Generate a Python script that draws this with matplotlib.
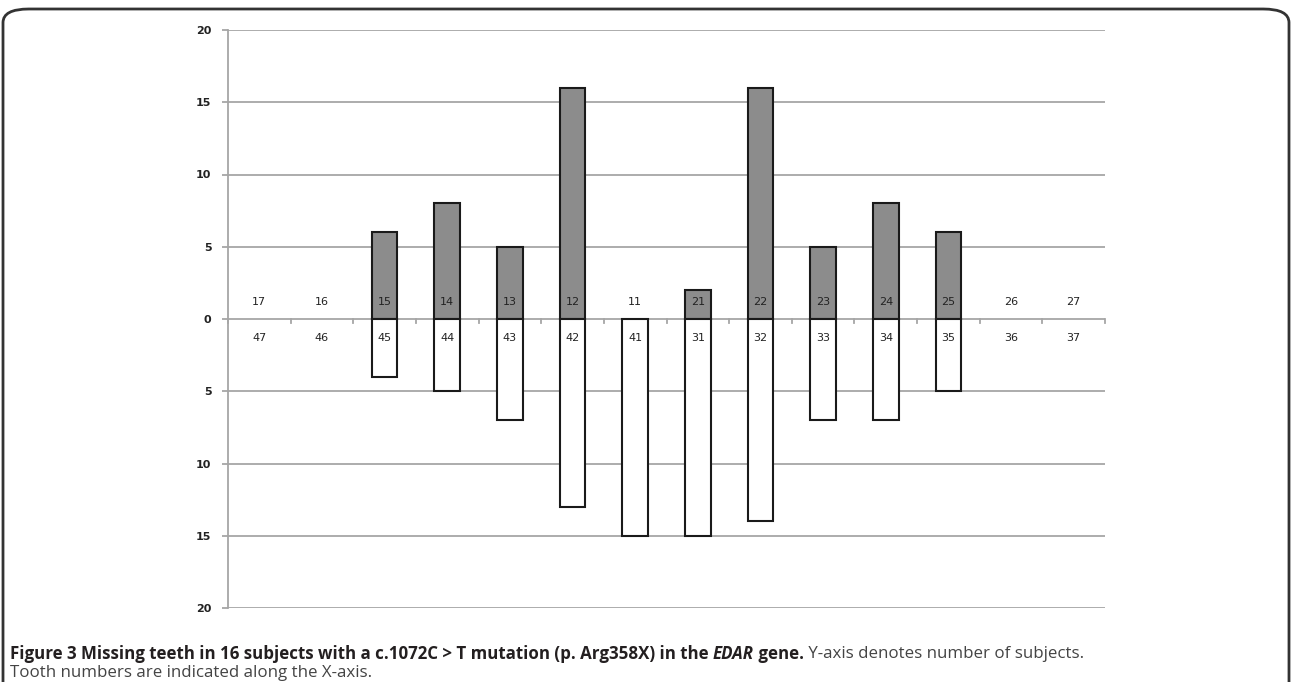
import numpy as np
import matplotlib.pyplot as plt
from matplotlib.patches import FancyBboxPatch

# tooth numbers, upper jaw (top) and lower jaw (bottom)
upper_teeth = ['17', '16', '15', '14', '13', '12', '11', '21', '22', '23', '24', '25', '26', '27']
lower_teeth = ['47', '46', '45', '44', '43', '42', '41', '31', '32', '33', '34', '35', '36', '37']
# number of subjects missing each tooth
upper_missing = [0, 0, 6, 8, 5, 16, 0, 2, 16, 5, 8, 6, 0, 0]
lower_missing = [0, 0, 4, 5, 7, 13, 15, 15, 14, 7, 7, 5, 0, 0]
y_ticks = [-20, -15, -10, -5, 0, 5, 10, 15, 20]

fig = plt.figure(figsize=(12.92, 6.82), dpi=100)
ax = fig.add_axes([228/1292, 1-608/682, 877/1292, 578/682])

x = np.arange(len(upper_teeth))
up = np.array(upper_missing)
lo = np.array(lower_missing)
grid_c = '#a6a6a6'
for yv in y_ticks:
    if yv != 0:
        ax.axhline(yv, color=grid_c, lw=1.3, zorder=0)

# no bar drawn where nobody misses the tooth
ax.bar(x[up > 0], up[up > 0], width=0.41, color='#8c8c8c', edgecolor='#1a1a1a', lw=1.5, zorder=2)
ax.bar(x[lo > 0], -lo[lo > 0], width=0.41, color='white', edgecolor='#1a1a1a', lw=1.5, zorder=2)

# zero axis with ticks between categories
ax.axhline(0, color=grid_c, lw=1.3, zorder=1)
for b in np.arange(len(x) + 1) - 0.5:
    ax.plot([b, b], [0, -0.3], color=grid_c, lw=1.3, zorder=1, clip_on=False)

for i in range(len(x)):
    ax.text(x[i], 1.2, upper_teeth[i], ha='center', va='center', fontsize=8, color='#222222', zorder=4)
    ax.text(x[i], -1.3, lower_teeth[i], ha='center', va='center', fontsize=8, color='#222222', zorder=4)

ax.set_xlim(-0.5, len(x) - 0.5)
ax.set_ylim(-20, 20)
ax.set_xticks([])
ax.set_yticks(y_ticks)
ax.set_yticklabels([str(abs(v)) for v in y_ticks], fontsize=8, fontweight='bold', color='#222222')
ax.tick_params(axis='y', length=4, color=grid_c, width=1.3, pad=8)
for s in ['top', 'right', 'bottom']:
    ax.spines[s].set_visible(False)
ax.spines['left'].set_color(grid_c)
ax.spines['left'].set_linewidth(1.3)

# frame round the figure
frame = FancyBboxPatch((3/1292, -0.1), 1286/1292, 1.1 - 9/682,
                       boxstyle='round,pad=0,rounding_size=0.02', transform=fig.transFigure,
                       fill=False, ec='#333333', lw=2, clip_on=False)
fig.patches.append(frame)

# caption
fam = 'Open Sans'
parts = [('Figure 3 Missing teeth in 16 subjects with a c.1072C > T mutation (p. Arg358X) in the ', 'bold', 'normal', '#231f20'),
         ('EDAR', 'bold', 'italic', '#231f20'),
         (' gene.', 'bold', 'normal', '#231f20'),
         (' Y-axis denotes number of subjects.', 'normal', 'normal', '#444444')]
fig.canvas.draw()
r = fig.canvas.get_renderer()
xpos = 10
for txt, w, st, c in parts:
    t = fig.text(xpos/1292, 1-654/682, txt, fontsize=12.2, fontweight=w, style=st,
                 color=c, family=fam, va='center', ha='left')
    xpos = t.get_window_extent(r).x1
fig.text(10/1292, 1-673/682, 'Tooth numbers are indicated along the X-axis.', fontsize=12.2,
         color='#444444', family=fam, va='center', ha='left')

fig.savefig('out.png', dpi=100)
